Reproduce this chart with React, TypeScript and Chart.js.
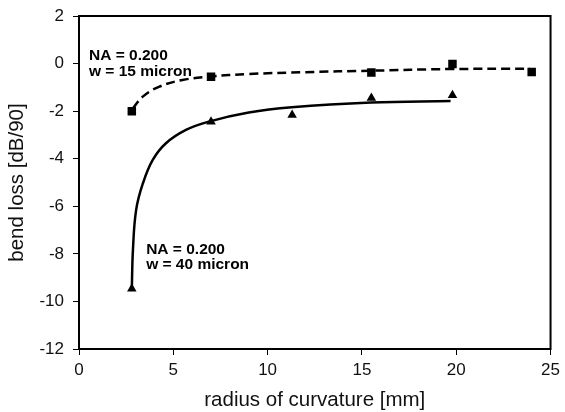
import React, { useEffect, useRef } from "react";
import { Chart, registerables } from "chart.js";

Chart.register(...registerables);

// Measured markers
const sqX = [2.8, 7.0, 15.5, 19.8, 24.0];
const sqY = [-2.0, -0.55, -0.38, -0.02, -0.35];
const triX = [2.8, 7.0, 11.3, 15.5, 19.8];
const triY = [-9.47, -2.45, -2.16, -1.45, -1.33];

// Fitted curves
const dashX = [2.86, 3.38, 4.26, 5.49, 6.89, 9.0, 12.0, 15.49, 19.7, 23.9];
const dashY = [-1.88, -1.39, -0.97, -0.69, -0.55, -0.44, -0.36, -0.3, -0.23, -0.22];
const solidX = [2.8, 2.86, 3.03, 3.39, 3.91, 4.61, 5.67, 6.89, 9.0, 11.28, 15.49, 19.7];
const solidY = [-9.47, -7.83, -6.15, -5.03, -4.05, -3.35, -2.79, -2.44, -2.06, -1.84, -1.64, -1.57];

// Annotations (data coords of first-line baseline-left)
const noteLines1 = ["NA = 0.200", "w = 15 micron"];
const noteLines2 = ["NA = 0.200", "w = 40 micron"];
const noteX = [0.53, 3.56];
const noteY = [0.15, -8.0];

const xTitle = "radius of curvature [mm]";
const yTitle = "bend loss [dB/90]";

const FONT = "'Liberation Sans', Arial, Helvetica, sans-serif";

const toPts = (xs: number[], ys: number[]) => xs.map((x, i) => ({ x, y: ys[i] }));

export default function App() {
  const ref = useRef<HTMLCanvasElement>(null);
  useEffect(() => {
    if (!ref.current) return;
    const notes = [noteLines1, noteLines2];
    const decor = {
      id: "decor",
      afterDraw(chart: any) {
        const { ctx, chartArea: a, scales } = chart;
        ctx.save();
        ctx.strokeStyle = "#000";
        ctx.lineWidth = 2;
        ctx.beginPath();
        ctx.moveTo(a.left - 1, a.top);
        ctx.lineTo(a.right, a.top);
        ctx.lineTo(a.right, a.bottom + 1);
        ctx.stroke();
        ctx.fillStyle = "#000";
        ctx.font = `bold 15.5px ${FONT}`;
        ctx.textAlign = "left";
        ctx.textBaseline = "alphabetic";
        notes.forEach((lines, i) => {
          const px = scales.x.getPixelForValue(noteX[i]);
          const py = scales.y.getPixelForValue(noteY[i]);
          lines.forEach((t, j) => ctx.fillText(t, px, py + j * 15.5));
        });
        ctx.restore();
      },
    };
    const chart = new Chart(ref.current, {
      type: "scatter",
      data: {
        datasets: [
          {
            data: toPts(dashX, dashY),
            showLine: true,
            borderColor: "#000",
            borderWidth: 2.5,
            borderDash: [9, 5],
            pointRadius: 0,
            tension: 0.4,
          },
          {
            data: toPts(solidX, solidY),
            showLine: true,
            borderColor: "#000",
            borderWidth: 2.5,
            pointRadius: 0,
            tension: 0.4,
          },
          {
            data: toPts(sqX, sqY),
            pointStyle: "rect",
            pointRadius: 6,
            backgroundColor: "#000",
            borderColor: "#000",
            borderWidth: 0,
          },
          {
            data: toPts(triX, triY),
            pointStyle: "triangle",
            pointRadius: 5.5,
            backgroundColor: "#000",
            borderColor: "#000",
            borderWidth: 0,
          },
        ],
      },
      options: {
        animation: false,
        responsive: false,
        devicePixelRatio: 1,
        layout: { padding: { left: 0, top: 16, right: 12, bottom: 0 } },
        plugins: { legend: { display: false }, tooltip: { enabled: false } },
        scales: {
          x: {
            type: "linear",
            min: 0,
            max: 25,
            afterFit: (s: any) => { s.height = 63; },
            ticks: { stepSize: 5, color: "#111", font: { family: FONT, size: 17 }, padding: 5 },
            grid: { drawOnChartArea: false, drawTicks: true, tickLength: 6, color: "#000", lineWidth: 1 },
            border: { display: true, color: "#000", width: 2 },
            title: { display: true, text: xTitle, color: "#111", font: { family: FONT, size: 20.5 }, padding: { top: 4, bottom: -1 } },
          },
          y: {
            type: "linear",
            min: -12,
            max: 2,
            afterFit: (s: any) => { s.width = 79; s.paddingTop = 10; s.paddingBottom = 10; },
            ticks: { stepSize: 2, color: "#111", font: { family: FONT, size: 17 }, padding: 9 },
            grid: { drawOnChartArea: false, drawTicks: true, tickLength: 6, color: "#000", lineWidth: 1 },
            border: { display: true, color: "#000", width: 2 },
            title: { display: true, text: yTitle, color: "#111", font: { family: FONT, size: 20.5 }, padding: { top: 5, bottom: 6 } },
          },
        },
      },
      plugins: [decor],
    } as any);
    return () => chart.destroy();
  }, []);
  return (
    <div style={{ position: "fixed", left: 0, top: 0, width: 565, height: 412, background: "#fff" }}>
      <canvas ref={ref} width={565} height={412} style={{ width: 565, height: 412 }} />
    </div>
  );
}
